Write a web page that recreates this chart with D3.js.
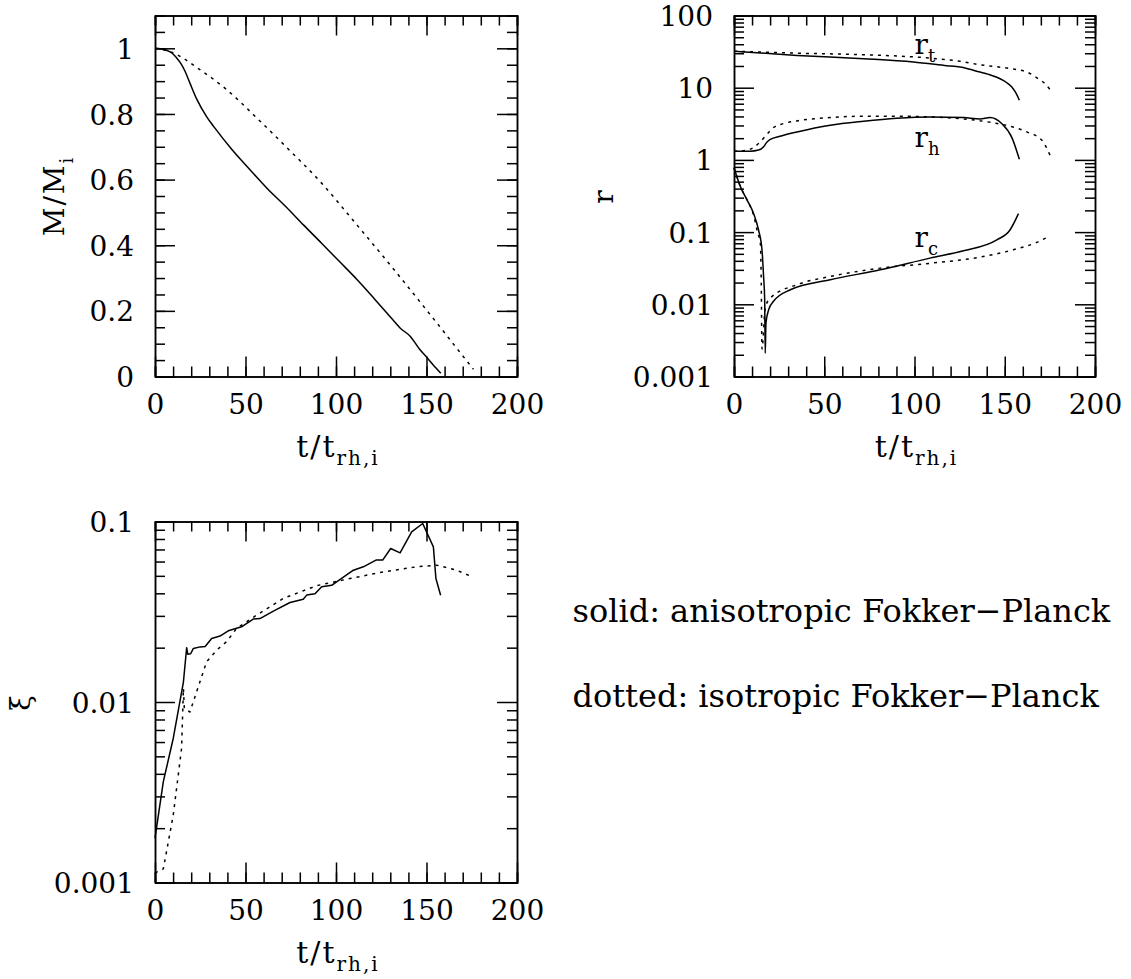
<!DOCTYPE html>
<html>
<head>
<meta charset="utf-8">
<script src="https://cdn.jsdelivr.net/npm/d3@7/dist/d3.min.js"></script>
<style>
  html, body { margin: 0; padding: 0; background: #fff; }
  svg { display: block; }
  .tick text { font-family: "DejaVu Serif", serif; font-size: 28px; fill: #000; }
  .domain, .tick line { stroke: #000; stroke-width: 1.5px; }
  .curve { fill: none; stroke: #000; stroke-width: 1.5px; stroke-linejoin: round; }
  .curve.iso { stroke-dasharray: 3 5; }
  .lbl { font-family: "DejaVu Serif", serif; fill: #000; }
</style>
</head>
<body>
<svg id="fig" width="1131" height="979"></svg>
<script>
// ---- axis ticks ----
const timeTicks = [0, 50, 100, 150, 200];
const timeMinorTicks = d3.range(0, 201, 10);
const massTicks = [0, 0.2, 0.4, 0.6, 0.8, 1];
const massMinorTicks = d3.range(0, 1.1001, 0.05);
const radiusTicks = [0.001, 0.01, 0.1, 1, 10, 100];
const xiTicks = [0.001, 0.01, 0.1];

// ---- mass M/Mi vs t/t_rh,i ----
const massAniso = [[0,1.0],[3,0.999],[6.4,0.994],[9.5,0.985],[11.9,0.971],[14.5,0.952],[16.6,0.93],
  [19.3,0.894],[23,0.846],[28.5,0.792],[32.8,0.759],[42.6,0.691],[52.5,0.63],[62,0.573],[72.2,0.518],
  [82,0.462],[91.9,0.407],[101.8,0.351],[111.7,0.295],[121.5,0.235],[131.4,0.173],[135.4,0.148],
  [141.1,0.122],[146.2,0.083],[150.2,0.058],[153.6,0.036],[157.9,0.010]];
const massIso = [[0,1.0],[9.2,0.988],[24.8,0.935],[39.6,0.874],[56.2,0.788],[72.2,0.701],[91.9,0.59],
  [111.7,0.461],[131.4,0.33],[151.1,0.195],[160.2,0.132],[165,0.098],[175.9,0.022]];

// ---- tidal radius r_t ----
const rtAniso = [[0,32.1],[34.9,28.0],[71.8,25.2],[99.4,22.7],[117.9,20.2],[125.3,19.3],[132.7,17.4],
  [136.3,16.5],[141,15.3],[147.4,13.3],[151,11.8],[153.9,10.2],[156,8.6],[158.1,6.7]];
const rtIso = [[0,32.1],[34.9,30.1],[71.8,28.6],[108.6,25.7],[125.3,23.2],[136.3,20.8],[152.9,18.4],
  [162.2,16.5],[168.6,13.3],[172.3,11.4],[175.1,9.4]];

// ---- half-mass radius r_h ----
const rhAniso = [[0,1.32],[9.0,1.32],[13.6,1.37],[16.4,1.52],[17.9,1.72],[20.1,1.92],[25.6,2.13],
  [34.9,2.44],[53.3,3.03],[71.8,3.44],[90.2,3.78],[108.7,3.94],[127.1,3.86],[136.3,3.70],[141.9,3.86],
  [148.3,3.19],[153.9,2.05],[158.1,1.02]];
const rhIso = [[0,1.32],[7.2,1.365],[10.9,1.49],[14.6,1.78],[18.3,2.27],[21.9,2.81],[27.5,3.19],
  [34.9,3.47],[53.3,3.86],[71.8,4.03],[90.2,4.03],[108.7,3.94],[127.1,3.70],[143.7,3.26],[152.9,2.93],
  [162.2,2.44],[170.5,1.88],[175.1,1.16]];

// ---- core radius r_c ----
const rcAniso = [[0,0.78],[3.5,0.43],[7.2,0.28],[10.9,0.18],[13.6,0.107],[15.5,0.057],[16.4,0.024],
  [17.0,0.0116],[17.3,0.0021],[17.7,0.0055],[19.2,0.0084],[21.9,0.011],[31.2,0.0159],[53.3,0.0219],
  [81,0.030],[108.6,0.0436],[127.1,0.055],[145.6,0.078],[152.9,0.107],[157.6,0.18]];
const rcIso = [[0,0.78],[3.5,0.43],[7.2,0.28],[10.9,0.17],[13.0,0.10],[14.6,0.070],[15.1,0.0197],
  [15.5,0.0024],[17.3,0.0089],[20.1,0.0122],[34.9,0.0187],[53.3,0.0243],[81,0.0317],[108.6,0.037],
  [136.3,0.045],[154.8,0.057],[167.7,0.072],[175.1,0.089]];

// ---- xi ----
const xiAniso = [[0,0.00176],[4.6,0.00362],[10.1,0.0063],[15.7,0.0129],[17.5,0.020],[18.1,0.0184],
  [19.7,0.0185],[21.2,0.0198],[24.9,0.0202],[27.7,0.0203],[31.3,0.0225],[35.9,0.0232],[40.5,0.0248],
  [47.8,0.0261],[54.3,0.0288],[58,0.029],[65.4,0.0319],[74.6,0.0356],[81.9,0.0371],[83.8,0.0391],
  [88.4,0.0398],[92.1,0.0435],[97.6,0.0443],[109.6,0.0537],[115.1,0.0561],[122.1,0.0611],[125.8,0.0611],
  [130.2,0.0709],[135.4,0.067],[141.8,0.0877],[147.9,0.0975],[153.8,0.0724],[155.2,0.0483],[157.8,0.039]];
const xiIso = [[0,0.00113],[4.6,0.00119],[10.1,0.00237],[14.7,0.00555],[15.7,0.0119],[16.2,0.0092],
  [19.3,0.0088],[23,0.0114],[28.5,0.0167],[34.1,0.0194],[39.6,0.0216],[45.1,0.0256],[56.2,0.0303],
  [70.9,0.0375],[89.3,0.0441],[107.7,0.0483],[126.2,0.0526],[144.6,0.0561],[155.6,0.0573],
  [166.7,0.0537],[175,0.0495]];

// ---- curve labels in the radius panel: [name, subscript, t, r] ----
const radiusLabels = [["r", "t", 100, 29.6], ["r", "h", 100, 1.52], ["r", "c", 100, 0.062]];

const legendLines = ["solid: anisotropic Fokker\u2212Planck", "dotted: isotropic Fokker\u2212Planck"];

const svg = d3.select("#fig");

function logMinor(lo, hi) {
  const out = [];
  for (let e = lo; e < hi; e++) for (let k = 2; k <= 9; k++) out.push(k * Math.pow(10, e));
  return out;
}

// Draws the box with inward ticks on all four sides; returns the x scale.
function frame(box, y, yMajor, yMinor, yFmt) {
  const x = d3.scaleLinear().domain([0, 200]).range([box.left, box.right]);
  const g = svg.append("g");
  const add = (axis, tx, ty) => g.append("g").attr("transform", `translate(${tx},${ty})`).call(axis);

  add(d3.axisBottom(x).tickValues(timeMinorTicks).tickSize(-10).tickFormat(""), 0, box.bottom);
  add(d3.axisBottom(x).tickValues(timeTicks).tickSize(-20).tickSizeOuter(0).tickPadding(17.5)
      .tickFormat(d3.format("d")), 0, box.bottom);
  add(d3.axisTop(x).tickValues(timeMinorTicks).tickSize(-10).tickFormat(""), 0, box.top);
  add(d3.axisTop(x).tickValues(timeTicks).tickSize(-20).tickSizeOuter(0).tickFormat(""), 0, box.top);

  add(d3.axisLeft(y).tickValues(yMinor).tickSize(-10).tickFormat(""), box.left, 0);
  const left = add(d3.axisLeft(y).tickValues(yMajor).tickSize(-20).tickSizeOuter(0).tickPadding(21)
      .tickFormat(yFmt), box.left, 0);
  left.selectAll(".tick text").attr("dy", "0.36em");
  add(d3.axisRight(y).tickValues(yMinor).tickSize(-10).tickFormat(""), box.right, 0);
  add(d3.axisRight(y).tickValues(yMajor).tickSize(-20).tickSizeOuter(0).tickFormat(""), box.right, 0);
  return x;
}

// Smooth curves for the mass and radius panels; the xi panel keeps its raw segments.
function curves(x, y, aniso, iso, smooth) {
  const line = d3.line().x(d => x(d[0])).y(d => y(d[1]))
    .curve(smooth ? d3.curveMonotoneX : d3.curveLinear);
  svg.append("path").attr("class", "curve").attr("d", line(aniso));
  svg.append("path").attr("class", "curve iso").attr("d", line(iso));
}

function xTitle(cx, baseline) {
  const t = svg.append("text").attr("class", "lbl").attr("x", cx).attr("y", baseline)
    .attr("text-anchor", "middle").style("font-size", "30px").style("letter-spacing", "2px");
  t.append("tspan").text("t/t");
  t.append("tspan").attr("dy", 8).style("font-size", "20px").text("rh,i");
}

function yTitle(bx, cy, main, sub) {
  const t = svg.append("text").attr("class", "lbl")
    .attr("transform", `translate(${bx},${cy}) rotate(-90)`)
    .attr("text-anchor", "middle").style("font-size", "28px").style("letter-spacing", "2px");
  t.append("tspan").text(main);
  if (sub) t.append("tspan").attr("dy", 9).style("font-size", "18px").text(sub);
}

// ---- panel 1: mass ----
const boxMass = { left: 155, right: 517, top: 15.5, bottom: 376.5 };
const yMass = d3.scaleLinear().domain([0, 1.1]).range([boxMass.bottom, boxMass.top]);
const xMass = frame(boxMass, yMass, massTicks, massMinorTicks, d3.format("~g"));
curves(xMass, yMass, massAniso, massIso, true);
xTitle((boxMass.left + boxMass.right) / 2 + 2, 457);
yTitle(64, (boxMass.top + boxMass.bottom) / 2, "M/M", "i");

// ---- panel 2: radii ----
const boxRad = { left: 734, right: 1095, top: 15.5, bottom: 376.5 };
const yRad = d3.scaleLog().domain([0.001, 100]).range([boxRad.bottom, boxRad.top]);
const xRad = frame(boxRad, yRad, radiusTicks, logMinor(-3, 2), d3.format("~g"));
curves(xRad, yRad, rtAniso, rtIso, true);
curves(xRad, yRad, rhAniso, rhIso, true);
curves(xRad, yRad, rcAniso, rcIso, true);
xTitle((boxRad.left + boxRad.right) / 2 + 2, 457);
yTitle(613, (boxRad.top + boxRad.bottom) / 2, "r", null);

radiusLabels.forEach(([name, sub, t, r]) => {
  const lab = svg.append("text").attr("class", "lbl").attr("x", xRad(t)).attr("y", yRad(r))
    .style("font-size", "28px");
  lab.append("tspan").text(name);
  lab.append("tspan").attr("dy", 8).style("font-size", "18px").text(sub);
});

// ---- panel 3: xi ----
const boxXi = { left: 155, right: 517, top: 521.5, bottom: 882.5 };
const yXi = d3.scaleLog().domain([0.001, 0.1]).range([boxXi.bottom, boxXi.top]);
const xXi = frame(boxXi, yXi, xiTicks, logMinor(-3, -1), d3.format("~g"));
curves(xXi, yXi, xiAniso, xiIso, false);
xTitle((boxXi.left + boxXi.right) / 2 + 2, 963);
yTitle(30, (boxXi.top + boxXi.bottom) / 2, "\u03be", null);

// ---- line-style key ----
svg.selectAll("text.key").data(legendLines).join("text")
  .attr("class", "lbl key").attr("x", 572.5).attr("y", (d, i) => 622 + i * 85)
  .style("font-size", "32px").text(d => d);
</script>
</body>
</html>
